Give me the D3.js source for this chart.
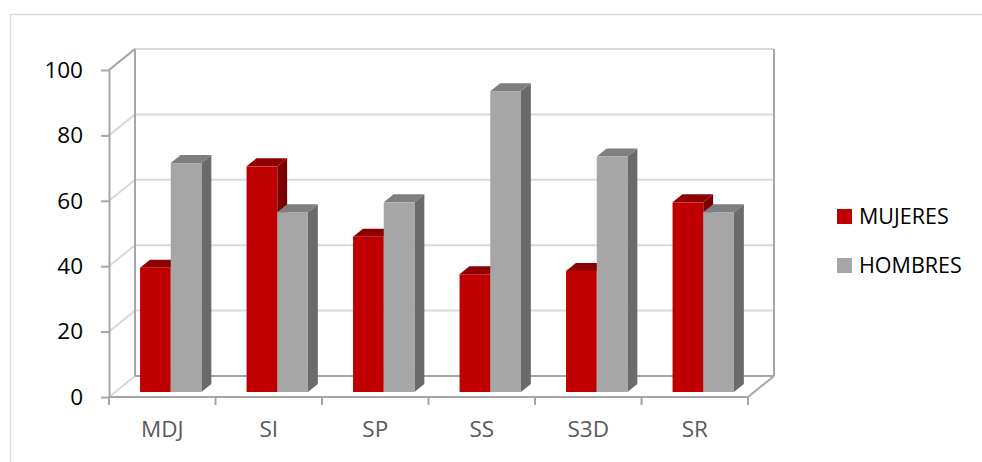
<!DOCTYPE html>
<html>
<head>
<meta charset="utf-8">
<script src="https://cdn.jsdelivr.net/npm/d3@7"></script>
<style>
  body { margin: 0; background: #fff; }
  svg { display: block; font-family: "Open Sans", sans-serif; }
</style>
</head>
<body>
<div class="chart"></div>
<script>
// data
const categories = ["MDJ", "SI", "SP", "SS", "S3D", "SR"];
const mujeres = [38, 69, 47.5, 36, 37, 58];
const hombres = [70, 55, 58, 92, 72, 55];
const seriesNames = ["MUJERES", "HOMBRES"];
const yTicks = [0, 20, 40, 60, 80, 100];

// setup chart
const width = 982;
const height = 462;
const svg = d3.select(".chart").append("svg").attr("width", width).attr("height", height);

// floor/walls geometry (3d look)
const plotLeft = 109, plotRight = 748, plotBottom = 397, plotTop = 70;
const depthX = 26, depthY = 21;
const shift = (z) => [depthX * z, -depthY * z];

const x = d3.scaleBand().domain(categories).range([plotLeft, plotRight]).paddingInner(0);
const y = d3.scaleLinear().domain([0, 100]).range([plotBottom, plotTop]);

const barW = 30.7;
const x1 = d3.scaleBand().domain(seriesNames).range([0, barW * 2]);
const zFront = 5 / 21, zBack = 13 / 21;

const colors = {
   MUJERES: { front: "#C00000", top: "#8E0000", side: "#7A0000" },
   HOMBRES: { front: "#A6A6A6", top: "#7F7F7F", side: "#6A6A6A" }
};

// outer frame
svg.append("rect")
   .attr("x", 10.5).attr("y", 14.5)
   .attr("width", 1000).attr("height", 600)
   .attr("fill", "none").attr("stroke", "#D9D9D9").attr("stroke-width", 1.5);

const walls = svg.append("g");
const [bx, by] = shift(1);

// gridlines on back wall and side wall
yTicks.filter((d) => d > 0).forEach((d) => {
   walls.append("line")
      .attr("x1", plotLeft + bx).attr("x2", plotRight + bx)
      .attr("y1", y(d) + by).attr("y2", y(d) + by)
      .attr("stroke", "#D9D9D9").attr("stroke-width", 2);
   walls.append("line")
      .attr("x1", plotLeft).attr("x2", plotLeft + bx)
      .attr("y1", y(d)).attr("y2", y(d) + by)
      .attr("stroke", "#D9D9D9").attr("stroke-width", 2);
});

// floor side diagonal
walls.append("line")
   .attr("x1", plotLeft).attr("x2", plotLeft + bx)
   .attr("y1", y(0)).attr("y2", y(0) + by)
   .attr("stroke", "#D9D9D9").attr("stroke-width", 2);

// back wall edges
walls.append("line")
   .attr("x1", plotLeft + bx).attr("x2", plotLeft + bx)
   .attr("y1", y(100) + by).attr("y2", y(0) + by)
   .attr("stroke", "#A6A6A6").attr("stroke-width", 2);
walls.append("line")
   .attr("x1", plotRight + bx).attr("x2", plotRight + bx)
   .attr("y1", y(100) + by).attr("y2", y(0) + by)
   .attr("stroke", "#A6A6A6").attr("stroke-width", 2);
walls.append("line")
   .attr("x1", plotLeft + bx).attr("x2", plotRight + bx)
   .attr("y1", y(0) + by).attr("y2", y(0) + by)
   .attr("stroke", "#A6A6A6").attr("stroke-width", 2);

// bars
const [fx, fy] = shift(zFront);
const [dx, dy] = [depthX * (zBack - zFront), -depthY * (zBack - zFront)];
const clusterOff = (x.bandwidth() - barW * 2) / 2 + 2.3;

const bars = svg.append("g");
categories.forEach((c, i) => {
   const vals = { MUJERES: mujeres[i], HOMBRES: hombres[i] };
   seriesNames.forEach((s) => {
      const col = colors[s];
      const x0 = x(c) + clusterOff + x1(s) + fx;
      const xR = x0 + barW;
      const yT = y(vals[s]) + fy;
      const yB = y(0) + fy;
      const g = bars.append("g");
      g.append("polygon")
         .attr("points", [[xR, yT], [xR + dx, yT + dy], [xR + dx, yB + dy], [xR, yB]].join(" "))
         .attr("fill", col.side);
      g.append("polygon")
         .attr("points", [[x0, yT], [xR, yT], [xR + dx, yT + dy], [x0 + dx, yT + dy]].join(" "))
         .attr("fill", col.top);
      g.append("rect")
         .attr("x", x0).attr("y", yT)
         .attr("width", barW).attr("height", yB - yT)
         .attr("fill", col.front);
   });
});

// front floor edges
svg.append("line")
   .attr("x1", plotLeft).attr("x2", plotRight)
   .attr("y1", y(0)).attr("y2", y(0))
   .attr("stroke", "#A6A6A6").attr("stroke-width", 2);
svg.append("line")
   .attr("x1", plotRight).attr("x2", plotRight + bx)
   .attr("y1", y(0)).attr("y2", y(0) + by)
   .attr("stroke", "#A6A6A6").attr("stroke-width", 2);
svg.append("line")
   .attr("x1", plotLeft).attr("x2", plotLeft + bx)
   .attr("y1", y(100)).attr("y2", y(100) + by)
   .attr("stroke", "#A6A6A6").attr("stroke-width", 2);

// y axis
const yAxis = svg.append("g")
   .attr("transform", `translate(${plotLeft},0)`)
   .call(d3.axisLeft(y).tickValues(yTicks).tickSize(8).tickSizeOuter(0).tickPadding(18));
yAxis.selectAll("path, line").attr("stroke", "#A6A6A6").attr("stroke-width", 2);
yAxis.selectAll("text")
   .attr("font-size", 22.5).attr("font-family", "Open Sans").attr("fill", "#000");

// x axis: ticks on band boundaries, labels in band centres
const xTickPos = categories.map((c) => x(c)).concat([plotRight]);
svg.append("g").selectAll("line")
   .data(xTickPos)
   .enter()
   .append("line")
   .attr("x1", (d) => d).attr("x2", (d) => d)
   .attr("y1", y(0)).attr("y2", y(0) + 8)
   .attr("stroke", "#A6A6A6").attr("stroke-width", 2);

const xAxis = svg.append("g")
   .attr("transform", `translate(0,${y(0)})`)
   .call(d3.axisBottom(x).tickSize(0).tickPadding(24));
xAxis.select(".domain").remove();
xAxis.selectAll("text")
   .attr("font-size", 22.5).attr("font-family", "Open Sans").attr("fill", "#595959");

// legend
const legend = svg.append("g").attr("transform", "translate(837,209)");
seriesNames.forEach((s, i) => {
   const item = legend.append("g").attr("transform", `translate(0,${i * 49})`);
   item.append("rect").attr("width", 15).attr("height", 15).attr("fill", colors[s].front);
   item.append("text")
      .attr("x", 22).attr("y", 7.5).attr("dy", "0.36em")
      .attr("font-size", 21.5).attr("fill", "#000")
      .text(s);
});
</script>
</body>
</html>
